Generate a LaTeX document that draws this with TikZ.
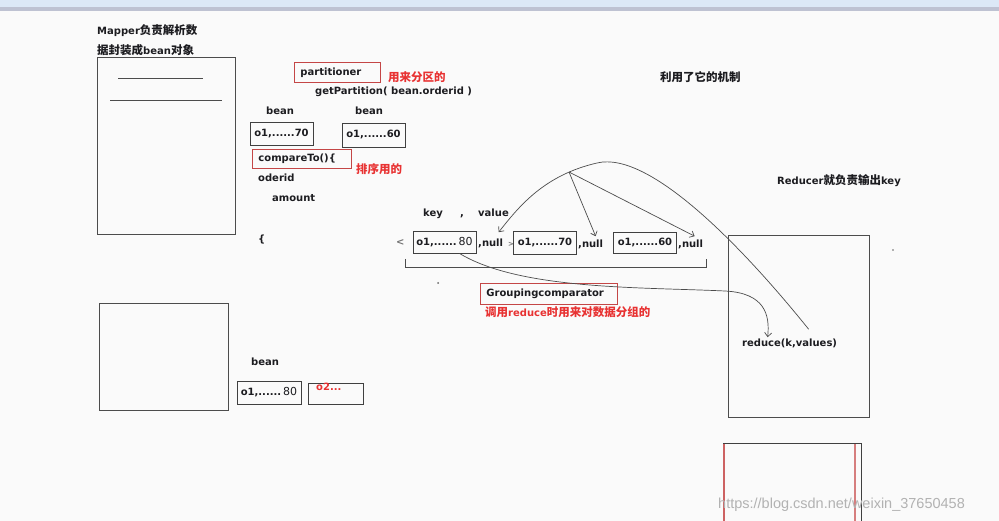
\documentclass[tikz,border=0pt]{standalone}
\usepackage{fontspec}
\setmainfont{DejaVu Sans}
\newfontfamily\cjk[Scale=1.15]{Noto Sans CJK SC Bold}
\newfontfamily\markfont{Liberation Sans}
\usetikzlibrary{arrows.meta, positioning}
\definecolor{notered}{RGB}{232, 50, 50}
\definecolor{boxred}{RGB}{196, 70, 70}
\definecolor{inkdark}{RGB}{28, 28, 32}
\definecolor{paperbg}{RGB}{250, 250, 250}
\definecolor{barblue}{RGB}{220, 232, 246}
\definecolor{bargrey}{RGB}{190, 194, 210}
\newcommand\zh[1]{{\cjk #1}}
\newcommand\eighty{\kern2pt{\mdseries\fontsize{11}{12}\selectfont 80}}

\begin{document}
\begin{tikzpicture}[x=1pt, y=-1pt,
    every node/.style = {font=\bfseries\fontsize{10}{12}\selectfont, text=inkdark, inner sep=0pt},
    txt/.style = {anchor=base west},
    note/.style = {anchor=base west, text=notered},
    panel/.style = {draw=black!70, line width=0.9pt},
    valbox/.style = {draw=black!75, line width=0.9pt, minimum width=63pt, minimum height=23pt},
    redbox/.style = {draw=boxred, line width=0.9pt, anchor=north west, inner xsep=6pt,
                     align=left, minimum height=20pt},
    link/.style = {draw=black!70, line width=0.7pt},
    arrow/.style = {link, -{Straight Barb[length=4pt, width=7pt]}}
]
  \fill[paperbg] (0,0) rectangle (999,521);
  \useasboundingbox (0,0) rectangle (999,521);
  \fill[barblue] (0,0) rectangle (999,7);
  \fill[bargrey] (0,7) rectangle (999,11);

  % mapper side
  \node[txt] (maptitle) at (97,35) {Mapper\zh{负责解析数}};
  \node[txt] (maptitle2) at (97,55) {\zh{据封装成}bean\zh{对象}};
  \draw[panel] (97,57) rectangle (235,234);
  \draw[panel, line width=0.7pt] (118,78) -- (203,78);
  \draw[panel, line width=0.7pt] (110,100) -- (222,100);
  \draw[panel] (99,303) rectangle (228,410);

  \node[redbox, text width=74pt] (part) at (294,62) {partitioner};
  \node[note, right=7pt of part.east, anchor=west, yshift=-5pt] (partnote) {\zh{用来分区的}};
  \node[txt] (getpart) at (315,95) {getPartition( bean.orderid )};

  \node[txt] (beanA) at (266,115) {bean};
  \node[txt] (beanB) at (355,115) {bean};
  \node[valbox] (valA) at (281.5,133.5) {o1,......70};
  \node[valbox, minimum height=24pt] (valB) at (373.5,135) {o1,......60};

  \node[redbox, text width=87pt, minimum height=19pt] (cmp) at (252,149) {compareTo()\{};
  \node[note, right=4pt of cmp.south east, anchor=base west, yshift=-5pt] (cmpnote) {\zh{排序用的}};
  \node[txt] (oderid) at (258,182) {oderid};
  \node[txt] (amount) at (272,202) {amount};
  \node[txt] (brace) at (258,243) {\{};

  \node[txt] (plbl) at (423,217) {key};
  \node[txt] (comma) at (460,217) {,};
  \node[txt] (vlbl) at (478,217) {value};
  \node[txt, text=black!55] (lt) at (396,246) {<};

  \node[valbox, minimum height=22pt] (key80) at (444.5,242) {o1,......\eighty};
  \node[txt] (null80) at (478,247) {,null};
  \node[txt, text=black!55, font=\bfseries\fontsize{7}{8}\selectfont] (gt) at (508,247) {>};
  \node[valbox] (key70) at (545,243) {o1,......70};
  \node[txt] (null70) at (578,248) {,null};
  \node[valbox, minimum height=21pt] (key60) at (645,242.5) {o1,......60};
  \node[txt] (null60) at (678,248) {,null};
  \draw[link, line width=0.8pt] (405,259) -- (405,267) -- (706,267) -- (706,259);
  \fill[black!60] (438,283) circle (1pt);

  \node[redbox, text width=125pt, minimum height=21pt] (group) at (480,283) {Groupingcomparator};
  \node[note] (groupnote) at (485,317) {\zh{调用}reduce\zh{时用来对数据分组的}};

  % reducer side
  \node[txt] (mech) at (660,82) {\zh{利用了它的机制}};
  \node[txt] (redtitle) at (777,185) {Reducer\zh{就负责输出}key};
  \draw[panel] (728,235) rectangle (869,417);
  \node[txt] (reduce) at (742,347) {reduce(k,values)};
  \fill[black!60] (893,250) circle (0.9pt);

  \draw[draw=black!75, line width=0.9pt] (723,521) -- (723,443) -- (861,443) -- (861,521);
  \draw[draw=boxred!85, line width=1.1pt] (724,444) -- (724,521);
  \draw[draw=boxred!70, line width=1.1pt] (855,444) -- (855,521);

  \node[txt] (beanC) at (251,366) {bean};
  \node[valbox, minimum width=64pt] (low80) at (269,392.5) {o1,......\eighty};
  \node[draw=black!75, line width=0.9pt, minimum width=55pt, minimum height=21pt] (low02) at (335.5,393.5) {};
  \node[note] (o2txt) at (316,391) {o2...};

  % connectors
  \coordinate (fork) at (569,172);
  \draw[arrow] ([xshift=19pt, yshift=10pt]reduce.north) .. controls (745,250) and (650,150) ..
    (597,163) .. controls (545,175) and (520,205) .. ([xshift=8pt, yshift=7pt]null80.north);
  \draw[arrow] (fork) -- ([xshift=5pt, yshift=4pt]null70.north);
  \draw[arrow] (fork) -- ([xshift=4pt, yshift=4pt]null60.north);
  \draw[arrow] ([xshift=15pt]key80.south) .. controls (520,290) and (640,287) .. (725,291)
    .. controls (765,293) and (770,315) .. ([xshift=-22pt, yshift=2pt]reduce.north);

  \node[txt, font=\markfont\fontsize{14.5}{16}\selectfont, text=black!30] (mark) at (718,508)
    {https://blog.csdn.net/weixin\_37650458};
\end{tikzpicture}
\end{document}
